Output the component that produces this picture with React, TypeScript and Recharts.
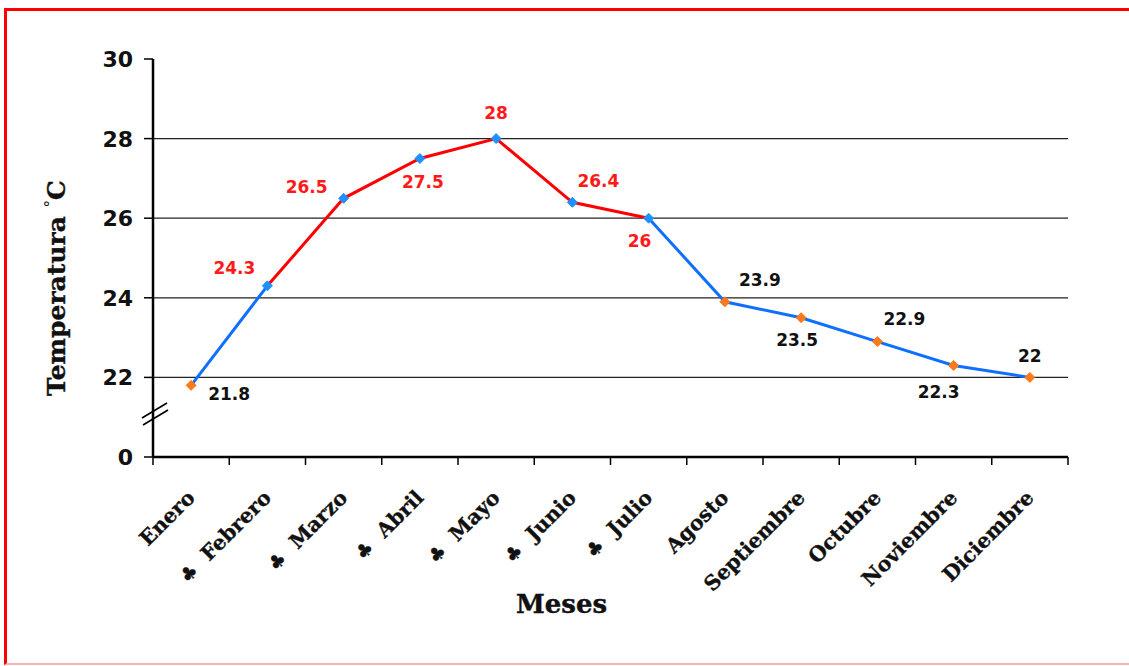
import React from 'react';
import { LineChart, Line, XAxis, YAxis, ReferenceLine } from 'recharts';

// ---- data ----
const months = ['Enero', 'Febrero', 'Marzo', 'Abril', 'Mayo', 'Junio', 'Julio', 'Agosto', 'Septiembre', 'Octubre', 'Noviembre', 'Diciembre'];
const temps = [21.8, 24.3, 26.5, 27.5, 28, 26.4, 26, 23.9, 23.5, 22.9, 22.3, 22];
const warmMonths = ['Febrero', 'Marzo', 'Abril', 'Mayo', 'Junio', 'Julio'];
const yTicks = [20, 22, 24, 26, 28, 30];
const yTickLabels = ['0', '22', '24', '26', '28', '30'];
const gridValues = [22, 24, 26, 28];
const axisBreakValue = 21.08;

// label placement (text-centre offset from the point), style only
const labelOffsets: [number, number][] = [
  [38, 9], [-33, -18], [-37, -11], [3, 23], [0, -26], [26, -21],
  [-9, 23], [35, -22], [-4, 22], [27, -23], [-15, 26], [0, -22],
];

const RED = '#ff0000';
const BLUE = '#0f6fff';
const MARK_BLUE = '#1e90ff';
const MARK_ORANGE = '#fb7a1e';

const isWarm = (i: number) => warmMonths.includes(months[i]);
const firstWarm = months.indexOf(warmMonths[0]);
const lastWarm = months.indexOf(warmMonths[warmMonths.length - 1]);

const data = months.map((m, i) => ({
  x: i + 0.5,
  month: m,
  t: temps[i],
  blueA: i <= firstWarm ? temps[i] : null,
  red: i >= firstWarm && i <= lastWarm ? temps[i] : null,
  blueB: i >= lastWarm ? temps[i] : null,
}));

const xTicks: number[] = [];
for (let i = 0; i <= months.length * 2; i++) xTicks.push(i / 2);

const XTick = (props: any) => {
  const { x, y, payload } = props;
  const v = payload.value as number;
  if (Number.isInteger(v)) {
    return <line x1={x} x2={x} y1={y} y2={y + 8} stroke="#000" strokeWidth={1.5} />;
  }
  const i = Math.floor(v);
  const name = months[i];
  const club = isWarm(i);
  return (
    <g transform={`translate(${x + 5},${y + 42}) rotate(-45)`}>
      <text textAnchor="end" fontFamily="'DejaVu Serif', serif" fontWeight="bold" fontSize={20.5} fill="#111" stroke="#111" strokeWidth={0.35}>
        {club ? <tspan fontSize={19} fontFamily="'DejaVu Sans', sans-serif">♣</tspan> : null}
        <tspan dx={club ? 14 : 0}>{name}</tspan>
      </text>
    </g>
  );
};

const YTick = (props: any) => {
  const { x, y, payload } = props;
  const v = payload.value as number;
  if (v === axisBreakValue) {
    return (
      <g>
        <line x1={x - 11} y1={y + 4} x2={x + 14} y2={y - 11} stroke="#000" strokeWidth={1.6} />
        <line x1={x - 10} y1={y + 11} x2={x + 15} y2={y - 4} stroke="#000" strokeWidth={1.6} />
      </g>
    );
  }
  const idx = yTicks.indexOf(v);
  return (
    <g>
      <line x1={x - 9} x2={x} y1={y} y2={y} stroke="#000" strokeWidth={1.5} />
      <text x={x - 20} y={y} dy="0.36em" textAnchor="end" fontFamily="'DejaVu Sans', sans-serif" fontWeight="bold" fontSize={22} fill="#111">
        {yTickLabels[idx]}
      </text>
    </g>
  );
};

const Diamond = (props: any) => {
  const { cx, cy, index } = props;
  if (cx == null || cy == null) return <g key={`d${index}`} />;
  const r = 5;
  const c = isWarm(index) ? MARK_BLUE : MARK_ORANGE;
  return (
    <polygon
      key={`d${index}`}
      points={`${cx},${cy - r} ${cx + r},${cy} ${cx},${cy + r} ${cx - r},${cy}`}
      fill={c}
      stroke={c}
      strokeWidth={1}
    />
  );
};

const ValueLabel = (props: any) => {
  const { x, y, value, index } = props;
  const [dx, dy] = labelOffsets[index] || [0, -15];
  return (
    <text
      key={`l${index}`}
      x={x + dx}
      y={y + dy}
      dy="0.36em"
      textAnchor="middle"
      fontFamily="'DejaVu Sans', sans-serif"
      fontWeight="bold"
      fontSize={17}
      fill={isWarm(index) ? '#ff1a1a' : '#111'}
    >
      {value}
    </text>
  );
};

const YTitle = (props: any) => {
  const vb = props.viewBox || { x: 0, y: 0, width: 0, height: 0 };
  const cx = vb.x + 65;
  const cy = vb.y + vb.height / 2 + 30;
  return (
    <text
      x={cx}
      y={cy}
      transform={`rotate(-90, ${cx}, ${cy})`}
      textAnchor="middle"
      fontFamily="'DejaVu Serif', serif"
      fontWeight="bold"
      fontSize={25}
      fill="#111"
      stroke="#111"
      strokeWidth={0.4}
    >
      Temperatura <tspan fontSize={15} dy={-10} fontWeight="normal" strokeWidth={0}>°</tspan>
      <tspan dy={10}>C</tspan>
    </text>
  );
};

const XTitle = (props: any) => {
  const vb = props.viewBox || { x: 0, y: 0, width: 0, height: 0 };
  const cx = vb.x + vb.width / 2 - 49;
  const cy = vb.y + 156;
  return (
    <text x={cx} y={cy} textAnchor="middle" fontFamily="'DejaVu Serif', serif" fontWeight="bold" fontSize={26} fill="#111" stroke="#111" strokeWidth={0.4}>
      Meses
    </text>
  );
};

export default function App() {
  return (
    <div style={{ position: 'absolute', left: 0, top: 0, width: 1129, height: 666, background: '#fff' }}>
      <div
        style={{
          position: 'absolute',
          left: 4,
          top: 8,
          width: 1125,
          height: 657,
          boxSizing: 'border-box',
          borderTop: '3px solid #ff0000',
          borderLeft: '3px solid #ff0000',
          borderBottom: '2px solid #f6b4b4',
        }}
      />
      <div style={{ position: 'absolute', left: 0, top: 0 }}>
        <LineChart width={1129} height={666} data={data} margin={{ top: 59, right: 61, bottom: 59, left: 0 }}>
          <XAxis
            xAxisId="bottom"
            dataKey="x"
            type="number"
            domain={[0, 12]}
            ticks={xTicks}
            interval={0}
            tick={<XTick />}
            tickLine={false}
            tickSize={0}
            tickMargin={0}
            height={150}
            axisLine={{ stroke: '#000', strokeWidth: 2.5 }}
            label={<XTitle />}
          />
          <XAxis
            xAxisId="top"
            orientation="top"
            dataKey="x"
            type="number"
            domain={[0, 12]}
            tick={false}
            tickLine={false}
            height={0}
            axisLine={{ stroke: '#000', strokeWidth: 2 }}
          />
          <YAxis
            yAxisId="left"
            type="number"
            domain={[20, 30]}
            ticks={[...yTicks.slice(0, 1), axisBreakValue, ...yTicks.slice(1)]}
            interval={0}
            tick={<YTick />}
            tickLine={false}
            tickSize={0}
            tickMargin={0}
            width={153}
            axisLine={{ stroke: '#000', strokeWidth: 2.5 }}
            label={<YTitle />}
          />
          <YAxis
            yAxisId="right"
            orientation="right"
            type="number"
            domain={[20, 30]}
            tick={false}
            tickLine={false}
            width={0}
            axisLine={{ stroke: '#000', strokeWidth: 2 }}
          />
          {gridValues.map((g) => (
            <ReferenceLine key={g} xAxisId="bottom" yAxisId="left" y={g} stroke="#222" strokeWidth={1.3} />
          ))}
          <Line xAxisId="bottom" yAxisId="left" dataKey="blueA" stroke={BLUE} strokeWidth={3} dot={false} activeDot={false} isAnimationActive={false} />
          <Line xAxisId="bottom" yAxisId="left" dataKey="red" stroke={RED} strokeWidth={3} dot={false} activeDot={false} isAnimationActive={false} />
          <Line xAxisId="bottom" yAxisId="left" dataKey="blueB" stroke={BLUE} strokeWidth={3} dot={false} activeDot={false} isAnimationActive={false} />
          <Line
            xAxisId="bottom"
            yAxisId="left"
            dataKey="t"
            stroke="none"
            dot={(p: any) => <Diamond {...p} key={`d${p.index}`} />}
            activeDot={false}
            label={(p: any) => <ValueLabel {...p} key={`l${p.index}`} />}
            isAnimationActive={false}
          />
        </LineChart>
      </div>
    </div>
  );
}
